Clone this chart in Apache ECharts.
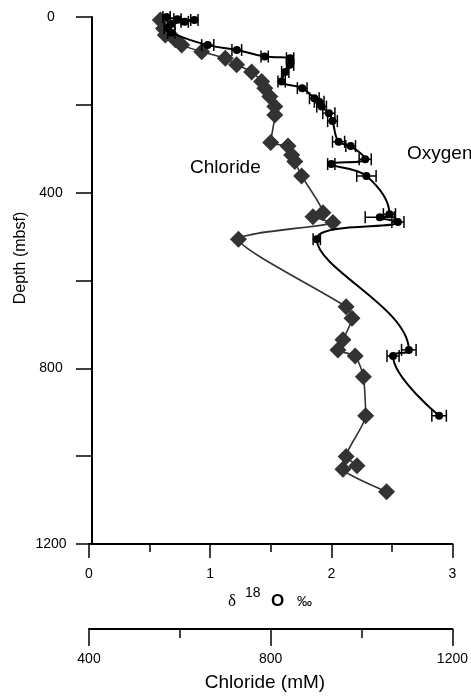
<!DOCTYPE html>
<html><head><meta charset="utf-8">
<script src="https://cdn.jsdelivr.net/npm/echarts@6/dist/echarts.min.js"></script>
<style>html,body{margin:0;padding:0;background:#fff}#c{width:471px;height:696px}</style>
</head><body><div id="c"></div>
<script>
const depthTicks = [0, 400, 800, 1200];
const oxygenTicks = [0, 1, 2, 3];
const chlorideTicks = [400, 800, 1200];

const oxygenDepth = [0, 5, 7, 11, 16, 25, 36, 64, 75, 90, 94, 109, 125, 147, 162, 185, 193, 204, 219, 237, 284, 294, 324, 335, 362, 449, 456, 467, 506, 758, 772, 908];
const oxygenValue = [0.64, 0.73, 0.87, 0.79, 0.68, 0.65, 0.68, 0.98, 1.22, 1.45, 1.66, 1.66, 1.62, 1.59, 1.76, 1.86, 1.90, 1.92, 1.98, 2.01, 2.06, 2.16, 2.28, 2.00, 2.29, 2.48, 2.40, 2.55, 1.88, 2.64, 2.51, 2.89];
const oxygenError = [0.03, 0.03, 0.03, 0.03, 0.03, 0.03, 0.03, 0.05, 0.04, 0.03, 0.03, 0.03, 0.03, 0.03, 0.04, 0.04, 0.04, 0.04, 0.05, 0.04, 0.05, 0.04, 0.05, 0.03, 0.08, 0.05, 0.12, 0.05, 0.03, 0.06, 0.05, 0.06];

const chlorideDepth = [7, 26, 41, 52, 64, 79, 94, 109, 125, 147, 162, 181, 204, 223, 286, 294, 314, 329, 362, 446, 455, 468, 506, 660, 686, 735, 758, 772, 819, 908, 1001, 1022, 1030, 1081];
const chlorideValue = [557, 564, 568, 590, 604, 648, 700, 725, 758, 780, 787, 798, 809, 809, 800, 838, 846, 853, 868, 915, 893, 937, 729, 966, 979, 959, 948, 986, 1004, 1009, 966, 990, 959, 1055];

const FONT = '"Liberation Sans", Arial, Helvetica, sans-serif';

const oxygenData = oxygenValue.map((v, i) => [v, oxygenDepth[i]]);
const oxygenErrData = oxygenValue.map((v, i) => [v - oxygenError[i], v + oxygenError[i], oxygenDepth[i]]);
const chlorideData = chlorideValue.map((v, i) => [v, chlorideDepth[i]]);

const chart = echarts.init(document.getElementById('c'), null, {renderer: 'canvas'});

const axisLineStyle = {color: '#000', width: 2};
const tickLineStyle = {color: '#000', width: 1.5};
const labelStyle = {color: '#000', fontSize: 14, fontFamily: FONT};

chart.setOption({
  animation: false,
  backgroundColor: '#fff',
  grid: {left: 89, top: 17, width: 365, height: 527, containLabel: false},
  xAxis: [
    {
      type: 'value', position: 'bottom',
      min: oxygenTicks[0], max: oxygenTicks[oxygenTicks.length - 1], interval: oxygenTicks[1] - oxygenTicks[0],
      axisLine: {show: true, onZero: false, lineStyle: axisLineStyle},
      axisTick: {show: true, length: 14, lineStyle: tickLineStyle},
      minorTick: {show: true, splitNumber: 2, length: 8, lineStyle: tickLineStyle},
      splitLine: {show: false},
      axisLabel: Object.assign({margin: 23, showMinLabel: true, showMaxLabel: true, formatter: v => String(v)}, labelStyle)
    },
    {
      type: 'value', position: 'bottom', offset: 85,
      min: chlorideTicks[0], max: chlorideTicks[chlorideTicks.length - 1], interval: chlorideTicks[1] - chlorideTicks[0],
      axisLine: {show: true, onZero: false, lineStyle: axisLineStyle},
      axisTick: {show: true, length: 17, lineStyle: tickLineStyle},
      minorTick: {show: true, splitNumber: 2, length: 9, lineStyle: tickLineStyle},
      splitLine: {show: false},
      axisLabel: Object.assign({margin: 23, showMinLabel: true, showMaxLabel: true, formatter: v => String(v)}, labelStyle)
    }
  ],
  yAxis: {
    type: 'value', inverse: true, offset: -3,
    min: depthTicks[0], max: depthTicks[depthTicks.length - 1], interval: depthTicks[1] - depthTicks[0],
    axisLine: {show: true, onZero: false, lineStyle: axisLineStyle},
    axisTick: {show: true, length: 16, lineStyle: tickLineStyle},
    minorTick: {show: true, splitNumber: 2, length: 16, lineStyle: tickLineStyle},
    splitLine: {show: false},
    axisLabel: Object.assign({margin: 41, align: 'center', showMinLabel: true, showMaxLabel: true, formatter: v => String(v)}, labelStyle)
  },
  series: [
    {
      name: 'Chloride', type: 'line', xAxisIndex: 1, yAxisIndex: 0,
      data: chlorideData, smooth: 0.2,
      symbol: 'diamond', symbolSize: 17,
      lineStyle: {color: '#333', width: 1.6},
      itemStyle: {color: '#333'},
      z: 2
    },
    {
      name: 'OxygenErr', type: 'custom', xAxisIndex: 0, yAxisIndex: 0,
      data: oxygenErrData,
      encode: {x: [0, 1], y: 2},
      renderItem: function (params, api) {
        const lo = api.coord([api.value(0), api.value(2)]);
        const hi = api.coord([api.value(1), api.value(2)]);
        const h = 6;
        const st = {stroke: '#000', lineWidth: 1.5};
        return {type: 'group', children: [
          {type: 'line', shape: {x1: lo[0], y1: lo[1], x2: hi[0], y2: hi[1]}, style: st},
          {type: 'line', shape: {x1: lo[0], y1: lo[1] - h, x2: lo[0], y2: lo[1] + h}, style: st},
          {type: 'line', shape: {x1: hi[0], y1: hi[1] - h, x2: hi[0], y2: hi[1] + h}, style: st}
        ]};
      },
      z: 3
    },
    {
      name: 'Oxygen', type: 'line', xAxisIndex: 0, yAxisIndex: 0,
      data: oxygenData, smooth: 0.4,
      symbol: 'circle', symbolSize: 8,
      lineStyle: {color: '#000', width: 2},
      itemStyle: {color: '#000'},
      z: 4
    }
  ],
  graphic: [
    {type: 'text', x: 190, y: 168, style: {text: 'Chloride', fontSize: 19, fontFamily: FONT, fill: '#000', align: 'left', verticalAlign: 'middle'}},
    {type: 'text', x: 407, y: 154, style: {text: 'Oxygen', fontSize: 19, fontFamily: FONT, fill: '#000', align: 'left', verticalAlign: 'middle'}},
    {type: 'text', x: 21, y: 258, rotation: Math.PI / 2, style: {text: 'Depth (mbsf)', fontSize: 16, fontFamily: FONT, fill: '#000', align: 'center', verticalAlign: 'middle'}},
    {type: 'text', x: 265, y: 683, style: {text: 'Chloride (mM)', fontSize: 19, fontFamily: FONT, fill: '#000', align: 'center', verticalAlign: 'middle'}},
    {type: 'text', x: 228, y: 602, style: {text: 'δ', fontSize: 17, fontFamily: '"Liberation Serif", "DejaVu Serif", serif', fill: '#000', align: 'left', verticalAlign: 'middle'}},
    {type: 'text', x: 245, y: 593, style: {text: '18', fontSize: 14, fontFamily: FONT, fill: '#000', align: 'left', verticalAlign: 'middle'}},
    {type: 'text', x: 271, y: 601, style: {text: 'O', fontSize: 17, fontWeight: 'bold', fontFamily: FONT, fill: '#000', align: 'left', verticalAlign: 'middle'}},
    {type: 'text', x: 297, y: 602, style: {text: '‰', fontSize: 15, fontFamily: FONT, fill: '#000', align: 'left', verticalAlign: 'middle'}}
  ]
});
</script>
</body></html>
